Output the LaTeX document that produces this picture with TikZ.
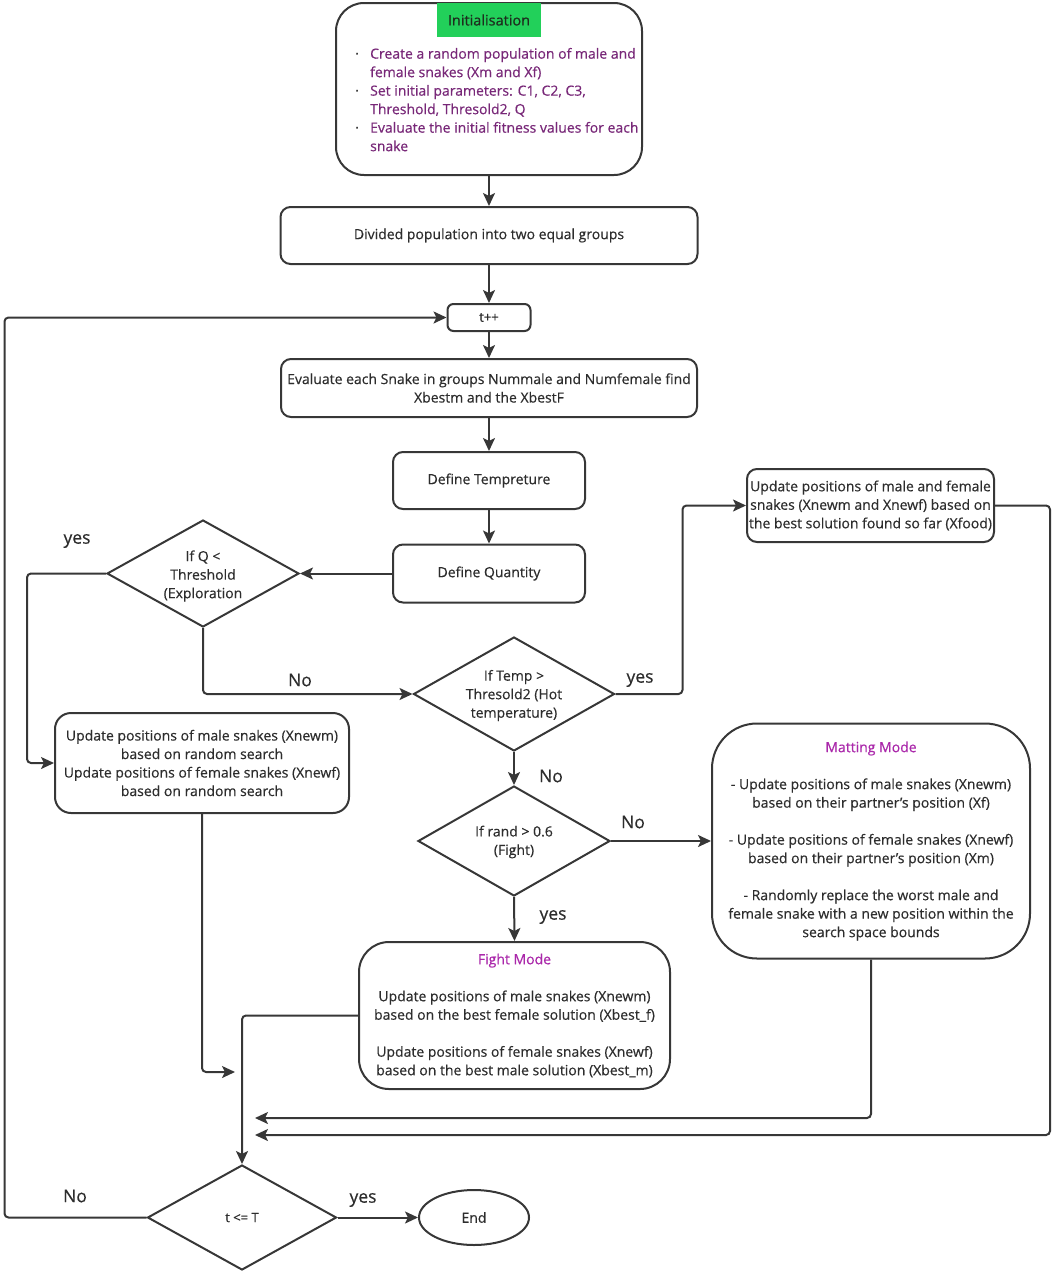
\documentclass[tikz,border=0pt]{standalone}
\usepackage{fontspec}
\setmainfont{Open Sans}[FakeBold=0.5]
\usetikzlibrary{arrows.meta,shapes.geometric}
\definecolor{lc}{RGB}{55,55,55}
\definecolor{tc}{RGB}{45,45,45}
\definecolor{purp}{RGB}{120,40,120}
\definecolor{mag}{RGB}{170,40,170}
\definecolor{grn}{RGB}{34,208,90}
\definecolor{dk}{RGB}{30,45,30}
\newcommand\myft{\fontsize{14}{18.5}\selectfont}
\newcommand\mysmall{\fontsize{13}{15}\selectfont}
\newcommand\mylab{\fontsize{17.5}{20}\selectfont}
\newcommand\mybul{\makebox[15pt][l]{\textcolor{tc}{\textperiodcentered}}}
\begin{document}
\begin{tikzpicture}[x=1pt,y=-1pt,
  box/.style={draw=lc, line width=2pt, rounded corners=#1, inner sep=2pt, align=center, text=tc, font=\myft},
  box/.default=10pt,
  dia/.style={draw=lc, line width=2pt, diamond, inner sep=0pt},
  dtext/.style={align=center, text=tc, font=\myft, inner sep=0pt},
  arr/.style={draw=lc, line width=2pt, -{Stealth[length=13pt,width=12pt,inset=3pt]}, rounded corners=4pt},
  lab/.style={font=\mylab, text=tc, inner sep=0pt}]
\useasboundingbox (0,0) rectangle (1052,1274);

% Initialisation
\node[box=28pt, minimum width=306pt, minimum height=172pt] (init) at (489,89) {};
\node[fill=grn, minimum width=104pt, minimum height=34pt, inner sep=0pt, font=\fontsize{14.5}{16}\selectfont, text=dk] (lbl) at (489,20) {Initialisation};
\node[anchor=north west, inner sep=0pt, text=purp, font=\myft] (bul) at (355,45.5) {%
\begin{tabular}{@{}l@{}l@{}}
\mybul & Create a random population of male and\\
 & female snakes (Xm and Xf)\\
\mybul & Set initial parameters: C1, C2, C3,\\
 & Threshold, Thresold2, Q\\
\mybul & Evaluate the initial fitness values for each\\
 & snake
\end{tabular}};

\node[box, minimum width=417pt, minimum height=57pt] (div) at (489,235.5) {Divided population into two equal groups};
\node[box=6pt, minimum width=83pt, minimum height=27pt, font=\mysmall] (tpp) at (489,317.5) {t++};
\node[box, minimum width=416pt, minimum height=58pt] (eval) at (489,388) {Evaluate each Snake in groups Nummale and Numfemale find\\Xbestm and the XbestF};
\node[box, minimum width=192pt, minimum height=57pt] (temp) at (489,480.5) {Define Tempreture};
\node[box, minimum width=192pt, minimum height=58pt] (qty) at (489,573.5) {Define Quantity};

\node[dia, minimum width=192pt, minimum height=107pt] (dq) at (203,573.5) {};
\node[dtext] (dqt) at (203,576) {If Q <\\Threshold\\(Exploration};

\node[box=16pt, minimum width=294pt, minimum height=100pt] (rnd) at (202,763) {Update positions of male snakes (Xnewm)\\based on random search\\Update positions of female snakes (Xnewf)\\based on random search};

\node[dia, minimum width=201pt, minimum height=114pt] (dt) at (514,694) {};
\node[dtext] (dtt) at (514,695.5) {If Temp >\\Thresold2 (Hot\\temperature)};

\node[box, minimum width=247pt, minimum height=73pt] (xf) at (870.5,505.5) {Update positions of male and female\\snakes (Xnewm and Xnewf) based on\\the best solution found so far (Xfood)};

\node[dia, minimum width=192pt, minimum height=110pt] (dr) at (514,841) {};
\node[dtext] (drt) at (514,842) {If rand > 0.6\\(Fight)};

\node[box=45pt, minimum width=318pt, minimum height=235pt] (mat) at (871,841) {\textcolor{mag}{Matting Mode}\\[18.5pt]- Update positions of male snakes (Xnewm)\\based on their partner's position (Xf)\\[18.5pt]- Update positions of female snakes (Xnewf)\\based on their partner's position (Xm)\\[18.5pt]- Randomly replace the worst male and\\female snake with a new position within the\\search space bounds};

\node[box=30pt, minimum width=311pt, minimum height=147pt] (fight) at (514.5,1015.5) {\textcolor{mag}{Fight Mode}\\[18.5pt]Update positions of male snakes (Xnewm)\\based on the best female solution (Xbest\_f)\\[18.5pt]Update positions of female snakes (Xnewf)\\based on the best male solution (Xbest\_m)};

\node[dia, minimum width=189pt, minimum height=105pt] (dend) at (242,1217.5) {};
\node[dtext, font=\mysmall] (dendt) at (242,1217.5) {t <= T};
\node[draw=lc, line width=2pt, ellipse, minimum width=110pt, minimum height=55pt, inner sep=0pt, font=\myft, text=tc] (end) at (474,1217.5) {End};

% connectors
\draw[arr] (init.south) -- (div.north);
\draw[arr] (div.south) -- (tpp.north);
\draw[arr] (tpp.south) -- (eval.north);
\draw[arr] (eval.south) -- (temp.north);
\draw[arr] (temp.south) -- (qty.north);
\draw[arr] (qty.west) -- (dq.east);
\draw[arr] (dq.west) -- ++(-79,0) |- (rnd.west);
\draw[arr] (dq.south) |- (dt.west);
\draw[arr] (dt.east) -- ++(67,0) |- (xf.west);
\draw[arr] (dt.south) -- (dr.north);
\draw[arr] (dr.east) -- (mat.west);
\draw[arr] (dr.south) -- (fight.north);
\coordinate (j1) at (235,1072);
\draw[arr] (rnd.south) |- (j1);
\draw[arr] (fight.west) -| (dend.north);
\coordinate (j2) at (255,1118);
\draw[arr] (mat.south) |- (j2);
\coordinate (j3) at (255,1135);
\draw[arr] (xf.east) -- ++(55,0) |- (j3);
\draw[arr] (dend.east) -- (end.west);
\draw[arr] (dend.west) -- ++(-142,0) |- (tpp.west);

% labels
\node[lab] (l1) at (77,541) {yes};
\node[lab] (l2) at (300,680) {No};
\node[lab] (l3) at (640,680) {yes};
\node[lab] (l4) at (551,776) {No};
\node[lab] (l5) at (633,822) {No};
\node[lab] (l6) at (553,917) {yes};
\node[lab] (l7) at (75,1196) {No};
\node[lab] (l8) at (363,1200) {yes};
\end{tikzpicture}
\end{document}
